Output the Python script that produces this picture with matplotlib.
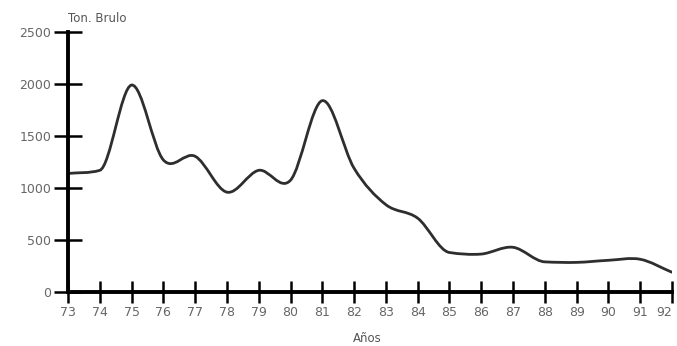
import numpy as np
import matplotlib.pyplot as plt
from matplotlib.path import Path
from matplotlib.patches import PathPatch

# Data
years = [73, 74, 75, 76, 77, 78, 79, 80, 81, 82, 83, 84, 85, 86, 87, 88, 89, 90, 91, 92]
tons = [1140, 1170, 1990, 1270, 1305, 960, 1170, 1075, 1840, 1190, 840, 710, 380, 365, 430, 290, 285, 305, 315, 190]
y_ticks = [0, 500, 1000, 1500, 2000, 2500]


# Smooth curve through the points: Catmull-Rom tangents, limited where the
# data is monotone so the curve doesn't overshoot, drawn as Bezier segments
def smooth_path(xs, ys):
    x = np.asarray(xs, float)
    y = np.asarray(ys, float)
    h = np.diff(x)
    d = np.diff(y) / h
    m = np.zeros_like(y)
    m[0] = d[0]
    m[-1] = d[-1]
    for i in range(1, len(y) - 1):
        m[i] = (d[i - 1] + d[i]) / 2
        if d[i - 1] * d[i] > 0:
            lim = 3 * min(abs(d[i - 1]), abs(d[i]))
            m[i] = np.sign(m[i]) * min(abs(m[i]), lim)
    verts = [(x[0], y[0])]
    codes = [Path.MOVETO]
    for i in range(len(x) - 1):
        verts += [(x[i] + h[i] / 3, y[i] + m[i] * h[i] / 3),
                  (x[i + 1] - h[i] / 3, y[i + 1] - m[i + 1] * h[i] / 3),
                  (x[i + 1], y[i + 1])]
        codes += [Path.CURVE4] * 3
    return Path(verts, codes)


fig = plt.figure(figsize=(6.77, 3.46), dpi=100)
ax = fig.add_axes([0.1004, 0.156, 0.8922, 0.7515])

ax.add_patch(PathPatch(smooth_path(years, tons), facecolor='none',
                       edgecolor='#2e2e2e', lw=2.0, capstyle='round'))

ax.set_xlim(73, 92)
ax.set_ylim(0, 2500)
ax.set_xticks(years)
ax.set_xticklabels([str(y) for y in years])
ax.set_yticks(y_ticks)

for s in ['top', 'right']:
    ax.spines[s].set_visible(False)
ax.spines['left'].set_linewidth(2.8)
ax.spines['bottom'].set_linewidth(2.8)

ax.tick_params(axis='x', direction='inout', length=16, width=1.8,
               labelsize=9, labelcolor='#666666', pad=2)
ax.tick_params(axis='y', direction='inout', length=20, width=1.8,
               labelsize=9, labelcolor='#666666', pad=2)
ax.get_xticklabels()[-1].set_ha('right')

fig.text(68 / 677, 1 - 19 / 346, 'Ton. Brulo', fontsize=8.5, color='#555555',
         ha='left', va='center')
fig.text(367 / 677, 1 - 338 / 346, 'Años', fontsize=8.5, color='#555555',
         ha='center', va='center')

fig.savefig('out.png', dpi=100)
